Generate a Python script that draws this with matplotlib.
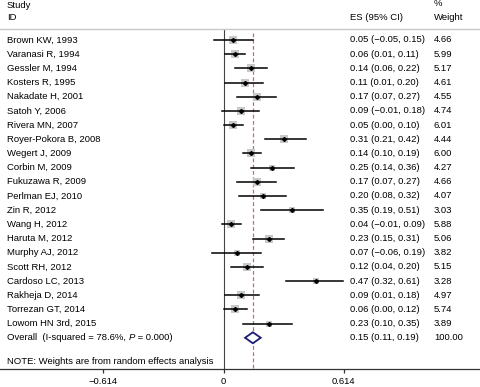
import matplotlib
matplotlib.use("Agg")
import matplotlib.pyplot as plt
from matplotlib.transforms import offset_copy
import numpy as np

plt.rcParams['font.family'] = ['Liberation Sans', 'DejaVu Sans']

studies = ["Brown KW, 1993", "Varanasi R, 1994", "Gessler M, 1994", "Kosters R, 1995",
           "Nakadate H, 2001", "Satoh Y, 2006", "Rivera MN, 2007", "Royer-Pokora B, 2008",
           "Wegert J, 2009", "Corbin M, 2009", "Fukuzawa R, 2009", "Perlman EJ, 2010",
           "Zin R, 2012", "Wang H, 2012", "Haruta M, 2012", "Murphy AJ, 2012",
           "Scott RH, 2012", "Cardoso LC, 2013", "Rakheja D, 2014", "Torrezan GT, 2014",
           "Lowom HN 3rd, 2015"]
es = [0.05, 0.06, 0.14, 0.11, 0.17, 0.09, 0.05, 0.31, 0.14, 0.25, 0.17, 0.20,
      0.35, 0.04, 0.23, 0.07, 0.12, 0.47, 0.09, 0.06, 0.23]
lo = [-0.05, 0.01, 0.06, 0.01, 0.07, -0.01, 0.00, 0.21, 0.10, 0.14, 0.07, 0.08,
      0.19, -0.01, 0.15, -0.06, 0.04, 0.32, 0.01, 0.00, 0.10]
hi = [0.15, 0.11, 0.22, 0.20, 0.27, 0.18, 0.10, 0.42, 0.19, 0.36, 0.27, 0.32,
      0.51, 0.09, 0.31, 0.19, 0.20, 0.61, 0.18, 0.12, 0.35]
weights = [4.66, 5.99, 5.17, 4.61, 4.55, 4.74, 6.01, 4.44, 6.00, 4.27, 4.66, 4.07,
           3.03, 5.88, 5.06, 3.82, 5.15, 3.28, 4.97, 5.74, 3.89]
overall_es, overall_lo, overall_hi, overall_w = 0.15, 0.11, 0.19, 100.00
overall_parts = ["Overall  (I-squared = 78.6%, ", "P", " = 0.000)"]
note = "NOTE: Weights are from random effects analysis"
tick_vals = [-0.614, 0, 0.614]
tick_labels = ["\u22120.614", "0", "0.614"]

W, H = 480, 387
fig = plt.figure(figsize=(W / 100, H / 100), dpi=100)
ax = fig.add_axes([0, 0, 1, 1])
x0px, scale = 223.5, 195.9
ax.set_xlim(-x0px / scale, (W - x0px) / scale)
ax.set_ylim(H, 0)

row0, drow = 40.0, 14.18
n = len(studies)
ys = row0 + drow * np.arange(n)
y_over = row0 + drow * n
axis_y = 369
fs = 6.8

def fmt(v):
    s = f"{v:.2f}"
    return s.replace("-", "\u2212")

def xt(px):
    return (px - x0px) / scale

# header
ax.text(xt(7), 5, "Study", fontsize=fs, va='center', ha='left')
ax.text(xt(7), 17, "ID", fontsize=fs, va='center', ha='left')
ax.text(xt(350), 17, "ES (95% CI)", fontsize=fs, va='center', ha='left')
ax.text(xt(434), 4, "%", fontsize=fs, va='center', ha='left')
ax.text(xt(434), 17, "Weight", fontsize=fs, va='center', ha='left')
ax.axhline(29, color='#c8c8c8', lw=1.0)

# reference lines
ax.plot([0, 0], [29, axis_y], color='#444444', lw=0.8, zorder=1)
ax.plot([overall_es, overall_es], [33, axis_y], color='#b8707e', lw=0.9,
        linestyle=(0, (3, 2)), zorder=1)

for i in range(n):
    y = ys[i]
    ax.plot([lo[i], hi[i]], [y, y], color='black', lw=1.1, zorder=3)
    ax.plot(es[i], y, marker='s', markersize=2.4 * np.sqrt(weights[i]),
            color='#c8c8c8', markeredgewidth=0, zorder=2)
    ax.plot(es[i], y, marker='D', markersize=2.0, color='black', zorder=4)
    ax.text(xt(7), y, studies[i], fontsize=fs, va='center', ha='left')
    ax.text(xt(350), y, f"{fmt(es[i])} ({fmt(lo[i])}, {fmt(hi[i])})",
            fontsize=fs, va='center', ha='left')
    ax.text(xt(434), y, f"{weights[i]:.2f}", fontsize=fs, va='center', ha='left')

# overall diamond
dh = 5.5
ax.fill([overall_lo, overall_es, overall_hi, overall_es, overall_lo],
        [y_over, y_over - dh, y_over, y_over + dh, y_over],
        facecolor='white', edgecolor='#1c1c78', lw=1.3, zorder=4)

# overall label with italic P, pieces placed one after another
fig.canvas.draw()
renderer = fig.canvas.get_renderer()
t = ax.text(xt(7), y_over, overall_parts[0], fontsize=fs, va='center', ha='left')
for k, part in enumerate(overall_parts[1:]):
    fig.canvas.draw()
    ext = t.get_window_extent(renderer)
    xpx = ext.x1
    xdata = ax.transData.inverted().transform((xpx, 0))[0]
    style = 'italic' if part == "P" else 'normal'
    t = ax.text(xdata, y_over, part, fontsize=fs, va='center', ha='left', style=style)

ax.text(xt(350), y_over, f"{fmt(overall_es)} ({fmt(overall_lo)}, {fmt(overall_hi)})",
        fontsize=fs, va='center', ha='left')
ax.text(xt(434), y_over, f"{overall_w:.2f}", fontsize=fs, va='center', ha='left')

ax.text(xt(7), 362, note, fontsize=fs, va='center', ha='left')

# bottom axis
for s in ['top', 'left', 'right']:
    ax.spines[s].set_visible(False)
ax.spines['bottom'].set_position(('data', axis_y))
ax.spines['bottom'].set_color('#333333')
ax.spines['bottom'].set_linewidth(0.9)
ax.set_xticks(tick_vals)
ax.set_xticklabels(tick_labels)
ax.tick_params(axis='x', direction='out', length=3, width=0.9, color='#333333',
               labelsize=fs, pad=3)
ax.set_yticks([])
ax.patch.set_visible(False)

fig.savefig("out.png", dpi=100)
